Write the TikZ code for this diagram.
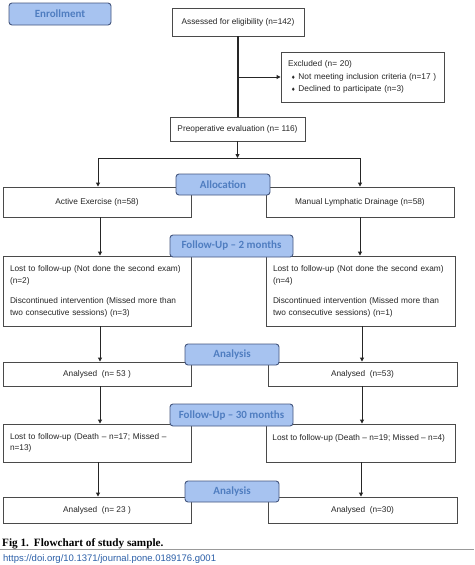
\documentclass[tikz,border=0pt]{standalone}
\usepackage{fontspec}
\setmainfont{Liberation Sans}
\newfontfamily\lblfont{Carlito}
\newfontfamily\capfont{Liberation Serif}
\newfontfamily\symfont{DejaVu Sans}
\usetikzlibrary{arrows.meta}
\definecolor{lblfill}{HTML}{A7C3F0}
\definecolor{lbldraw}{HTML}{45577F}
\definecolor{lbltext}{HTML}{4F7DC0}
\definecolor{boxdraw}{HTML}{4A4A4A}
\definecolor{urlblue}{HTML}{2B5FA8}
\newcommand{\bul}{{\symfont\fontsize{5}{5}\selectfont ♦}}
\begin{document}
\begin{tikzpicture}[x=1pt,y=-1pt,
 box/.style={draw=boxdraw, line width=0.9pt, fill=white, inner sep=0pt, text=black!85, font=\fontsize{8.3}{12}\selectfont},
 lbl/.style={draw=lbldraw, line width=0.9pt, fill=lblfill, rounded corners=3pt, inner sep=0pt, font=\lblfont\bfseries\fontsize{11}{13}\selectfont, text=lbltext},
 conn/.style={draw=black!85, line width=0.9pt},
 arr/.style={conn, -{Triangle[length=4pt,width=4pt]}},
 txt/.style={inner sep=0pt, text=black!85, font=\fontsize{8.3}{12}\selectfont},
]
\useasboundingbox (0,0) rectangle (474,565);
\fill[white] (0,0) rectangle (474,565);

% boxes
\node[box, minimum width=132pt, minimum height=28pt] (assess) at (238,22) {Assessed for eligibility (n=142)};
\node[box, minimum width=163pt, minimum height=50pt, text width=149pt, align=left, font=\fontsize{8.3}{12.5}\selectfont] (excl) at (362.5,77)
 {Excluded (n= 20)\\ \hspace*{3pt}\bul\hspace{3pt}Not meeting inclusion criteria (n=17 )\\ \hspace*{3pt}\bul\hspace{3pt}Declined to participate (n=3)};
\node[box, minimum width=135pt, minimum height=24pt] (preop) at (237.5,129) {Preoperative evaluation (n= 116)};

\node[box, minimum width=188pt, minimum height=30pt] (active) at (97,202) {Active Exercise (n=58)};
\node[box, minimum width=188pt, minimum height=30pt] (manual) at (360,202) {Manual Lymphatic Drainage (n=58)};

\node[box, minimum width=188pt, minimum height=70pt, text width=174pt, align=left] (fuL) at (97,291)
 {Lost to follow-up (Not done the second exam)\\ (n=2)\\[8pt] Discontinued intervention (Missed more than\\ two consecutive sessions) (n=3)};
\node[box, minimum width=189pt, minimum height=70pt, text width=175pt, align=left] (fuR) at (360.5,291)
 {Lost to follow-up (Not done the second exam)\\ (n=4)\\[8pt] Discontinued intervention (Missed more than\\ two consecutive sessions) (n=1)};

\node[box, minimum width=188pt, minimum height=24pt] (anL) at (97,374) {Analysed\ \ (n=~53~)};
\node[box, minimum width=189pt, minimum height=24pt] (anR) at (362.5,374) {Analysed\ \ (n=53)};

\node[box, minimum width=188pt, minimum height=38pt, text width=174pt, align=left, font=\fontsize{8.3}{11}\selectfont] (lostL) at (97,443)
 {Lost to follow-up (Death – n=17; Missed –\\ n=13)};
\node[box, minimum width=189pt, minimum height=38pt] (lostR) at (360.5,443) {};
\node[txt, anchor=base west] (lostRt) at ([shift={(6.7,17)}]lostR.north west) {Lost to follow-up (Death – n=19; Missed – n=4)};

\node[box, minimum width=188pt, minimum height=26pt] (an2L) at (97,510) {Analysed\ \ (n=~23~)};
\node[box, minimum width=189pt, minimum height=26pt] (an2R) at (362.5,510) {Analysed\ \ (n=30)};

% connectors
\draw[conn, line width=1.8pt] (assess.south) -- (assess.south |- preop.north);
\draw[arr] (assess.south |- excl.west) -- (excl.west);
\coordinate (split) at (237.5,158);
\coordinate (splitL) at (98,158);
\coordinate (splitR) at (360,158);
\draw[arr] (preop.south) -- (split);
\draw[conn] (splitL) -- (splitR);
\draw[arr] (splitL) -- (splitL |- active.north);
\draw[arr] (splitR) -- (splitR |- manual.north);

\draw[arr] ([xshift=3pt]active.south) -- ([xshift=3pt]fuL.north);
\draw[arr] (manual.south) -- (manual.south |- fuR.north);

\draw[arr] ([xshift=3pt]fuL.south) -- ([xshift=3pt]anL.north);
\draw[arr] ([xshift=1.5pt]fuR.south) -- ([xshift=1.5pt]fuR.south |- anR.north);

\draw[arr] ([xshift=3pt]anL.south) -- ([xshift=3pt]lostL.north);
\draw[arr] ([xshift=-0.5pt]anR.south) -- ([xshift=-0.5pt]anR.south |- lostR.north);

\draw[arr] ([xshift=1pt]lostL.south) -- ([xshift=1pt]an2L.north);
\draw[arr] ([xshift=0.5pt]lostR.south) -- ([xshift=0.5pt]lostR.south |- an2R.north);

% stage labels
\node[lbl, minimum width=102pt, minimum height=22pt] (enrol) at (60,14) {Enrollment};
\node[lbl, minimum width=94pt, minimum height=21pt] (alloc) at (223,184.5) {Allocation};
\node[lbl, minimum width=123pt, minimum height=22pt] (fu2) at (231.5,246) {Follow-Up – 2 months};
\node[lbl, minimum width=94pt, minimum height=21pt] (ana1) at (232,354.5) {Analysis};
\node[lbl, minimum width=123pt, minimum height=22pt] (fu30) at (231.5,415) {Follow-Up – 30 months};
\node[lbl, minimum width=94pt, minimum height=21pt] (ana2) at (232,491.5) {Analysis};

% caption
\node[anchor=base west, inner sep=0pt, font=\capfont\bfseries\fontsize{11.2}{13}\selectfont] (cap) at (2,546) {Fig 1.\hspace{0.45em}Flowchart of study sample.};
\coordinate (ruleL) at (0,549.5);
\coordinate (ruleR) at (474,549.5);
\draw[black!40, line width=0.8pt] (ruleL) -- (ruleR);
\node[anchor=base west, inner sep=0pt, text=urlblue, font=\fontsize{9.5}{11}\selectfont] (url) at (3,561.8) {https://doi.org/10.1371/journal.pone.0189176.g001};
\end{tikzpicture}
\end{document}
